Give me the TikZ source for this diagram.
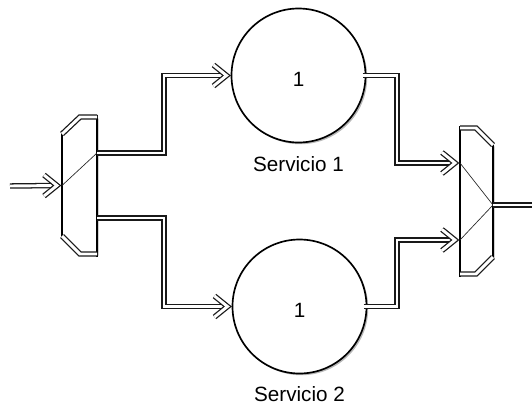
\documentclass[tikz,border=0pt]{standalone}
\usepackage{fontspec}
\setmainfont{Liberation Sans}
\usetikzlibrary{calc,shadows}
\tikzset{
  dbl/.style={draw=black!90, line width=0.95pt, double=white, double distance=2.2pt, line join=miter, miter limit=10},
  thinln/.style={draw=black!85, line width=0.5pt},
  shad/.style={drop shadow={shadow xshift=1.3pt, shadow yshift=-1.3pt, opacity=0.28, fill=black}},
  blockbox/.style={rectangle, draw=none, inner sep=0pt, outer sep=0pt},
  port/.style={circle, draw=black, line width=1.25pt, fill=white, minimum size=100.5pt, inner sep=0pt, outer sep=0pt, shad},
  numtxt/.style={font=\fontsize{15.5}{18}\selectfont, inner sep=0pt},
  lbl/.style={font=\fontsize{15.5}{18}\selectfont, anchor=base, inner sep=0pt},
  blockline/.style={line width=1.25pt, fill=white, shad}
}
\newcommand\chevron[1]{\draw[dbl] ($(#1)+(-18,-10.5)$) -- ($(#1)+(-5,0)$) -- ($(#1)+(-18,10.5)$);}
\begin{document}
\begin{tikzpicture}[x=0.75pt,y=-0.75pt]
\useasboundingbox (0,0) rectangle (532,408);

% ---- nodes
\node[blockbox, minimum width=26.25pt, minimum height=107.25pt] (split) at (79.5,185.5) {};
\node[blockbox, minimum width=24.75pt, minimum height=109.5pt] (merge) at (476.5,201) {};
\node[port] (c1) at (298.5,75.5) {};
\node[port] (c2) at (299.5,306.5) {};
\node[numtxt] (n1) at ($(c1.center)+(0,4)$) {1};
\node[numtxt] (n2) at ($(c2.center)+(0,4)$) {1};
\node[lbl] (l1) at ($(c1.south)+(0,28.5)$) {Servicio 1};
\node[lbl] (l2) at ($(c2.south)+(0,28)$) {Servicio 2};

% ---- left split block
\filldraw[blockline] (97,117) -- (80,117) -- (62,134) -- (62,236) -- (80,254) -- (97,254) -- cycle;
\draw[line width=1.8pt] (97,114.5) -- (97,256.5);
\draw[dbl] (97,117) -- (80,117) -- (62,134);
\draw[dbl] (62,236) -- (80,254) -- (97,254);

% ---- right merge block
\filldraw[blockline] (460,128) -- (476,128) -- (493,145) -- (493,257) -- (476,274) -- (460,274) -- cycle;
\draw[line width=1.8pt] (460,125.5) -- (460,276.5);
\draw[dbl] (460,128) -- (476,128) -- (493,145);
\draw[dbl] (493,257) -- (476,274) -- (460,274);

% ---- coordinates
\coordinate (in) at (10,186);
\coordinate (out) at (532,205);
\coordinate (sw) at (split.west);
\coordinate (s1) at ($(split.east)+(0,-32.5)$);
\coordinate (s2) at ($(split.east)+(0,32.5)$);
\coordinate (m1) at ($(merge.west)+(0,-38)$);
\coordinate (m2) at ($(merge.west)+(0,39)$);
\coordinate (mo) at ($(merge.east)+(0,4)$);
\coordinate (c1w) at (c1.west);
\coordinate (c2w) at (c2.west);

% ---- internal lines
\draw[thinln] (sw) -- (s1);
\draw[thinln] (m1) -- (mo);
\draw[thinln] (m2) -- (mo);

% ---- connectors
\draw[dbl] (in) -- ($(sw)+(-6,0)$);
\chevron{sw}
\draw[dbl] (s1) -- ++(67,0) |- ($(c1w)+(-6,0)$);
\chevron{c1w}
\draw[dbl] (s2) -- ++(67,0) |- ($(c2w)+(-6,0)$);
\chevron{c2w}
\draw[dbl] ($(c1.east)+(-3,0)$) -- ++(34.5,0) |- ($(m1)+(-6,0)$);
\chevron{m1}
\draw[dbl] ($(c2.east)+(-3,0)$) -- ++(33.5,0) |- ($(m2)+(-6,0)$);
\chevron{m2}
\draw[dbl] (mo) -- (out);
\end{tikzpicture}
\end{document}
